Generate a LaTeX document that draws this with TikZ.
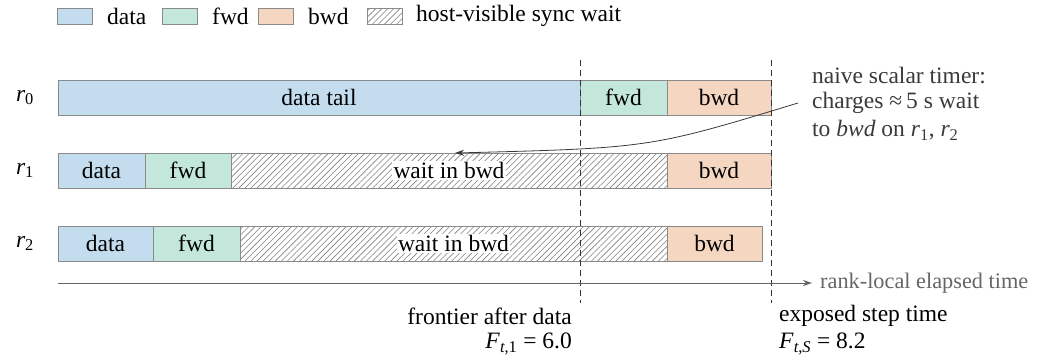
\documentclass[tikz,border=0pt]{standalone}
\usepackage{fontspec}
\setmainfont{Liberation Serif}
\usetikzlibrary{patterns.meta,arrows.meta}
\definecolor{cdata}{HTML}{C4DDEE}
\definecolor{cfwd}{HTML}{C3E7DB}
\definecolor{cbwd}{HTML}{F4D6C1}
\definecolor{cedge}{HTML}{8A8A8A}
\definecolor{chatch}{HTML}{808080}
\definecolor{cnote}{HTML}{3A3A3A}
\definecolor{caxis}{HTML}{666666}
\newcommand{\sub}[2]{#1\textsubscript{#2}}
\begin{document}
\begin{tikzpicture}[x=1pt,y=-1pt,
  font=\fontsize{23.5}{27}\selectfont,
  seg/.style={draw=cedge,line width=0.9pt,minimum height=35pt,inner sep=0pt,anchor=north west,outer sep=0pt},
  datab/.style={seg,fill=cdata},
  fwdb/.style={seg,fill=cfwd},
  bwdb/.style={seg,fill=cbwd},
  waitb/.style={seg,pattern={Lines[angle=45,distance=4.3pt,line width=0.6pt]},pattern color=chatch},
  swatch/.style={draw=cedge,line width=0.9pt,minimum width=35pt,minimum height=16pt,inner sep=0pt,anchor=west,outer sep=0pt},
  lbl/.style={inner sep=0pt},
  waitlbl/.style={fill=white,inner sep=1.5pt},
  frontier/.style={dashed,dash pattern=on 6pt off 4pt,line width=0.9pt,draw=black!80}
]
\useasboundingbox (0,0) rectangle (1045,360);

% legend
\node[swatch,fill=cdata] (lg1) at (57,16) {};
\node[lbl,anchor=west] (lt1) at (107,16) {data};
\node[swatch,fill=cfwd] (lg2) at (162,16) {};
\node[lbl,anchor=west] (lt2) at (212,16) {fwd};
\node[swatch,fill=cbwd] (lg3) at (258,16) {};
\node[lbl,anchor=west] (lt3) at (308,16) {bwd};
\node[swatch,pattern={Lines[angle=45,distance=4.3pt,line width=0.6pt]},pattern color=chatch] (lg4) at (367,16) {};
\node[lbl,anchor=west] (lt4) at (416,16) {host-visible sync wait};

% row labels
\node[lbl] (r0) at (25,97.5) {\sub{\textit{r}}{0}};
\node[lbl] (r1) at (25,170.5) {\sub{\textit{r}}{1}};
\node[lbl] (r2) at (25,243.5) {\sub{\textit{r}}{2}};

% row 0
\node[datab,minimum width=522pt] (a0) at (58,80) {};
\node[fwdb,minimum width=87pt] (b0) at (580,80) {};
\node[bwdb,minimum width=104pt] (c0) at (667,80) {};
\node[lbl] at (a0.center) {data tail};
\node[lbl] at (b0.center) {fwd};
\node[lbl] at (c0.center) {bwd};

% row 1
\node[datab,minimum width=87pt] (a1) at (58,153) {};
\node[fwdb,minimum width=86pt] (b1) at (145,153) {};
\node[waitb,minimum width=436pt] (w1) at (231,153) {};
\node[bwdb,minimum width=104pt] (c1) at (667,153) {};
\node[lbl] at (a1.center) {data};
\node[lbl] at (b1.center) {fwd};
\node[waitlbl] (wl1) at (w1.center) {wait in bwd};
\node[lbl] at (c1.center) {bwd};

% row 2
\node[datab,minimum width=95pt] (a2) at (58,226) {};
\node[fwdb,minimum width=87pt] (b2) at (153,226) {};
\node[waitb,minimum width=427pt] (w2) at (240,226) {};
\node[bwdb,minimum width=95pt] (c2) at (667,226) {};
\node[lbl] at (a2.center) {data};
\node[lbl] at (b2.center) {fwd};
\node[waitlbl] (wl2) at (w2.center) {wait in bwd};
\node[lbl] at (c2.center) {bwd};

% frontier lines
\coordinate (f1t) at (580,60);
\coordinate (f1b) at (580,303);
\coordinate (f2t) at (771,60);
\coordinate (f2b) at (771,303);
\draw[frontier] (f1t) -- (f1b);
\draw[frontier] (f2t) -- (f2b);

% time axis
\coordinate (ax0) at (58,283);
\coordinate (ax1) at (812,283);
\draw[caxis,line width=0.9pt,-{Stealth[length=9pt,width=6pt]}] (ax0) -- (ax1);
\node[lbl,anchor=west,text=caxis,font=\fontsize{22.3}{26}\selectfont] (axl) at (820,283) {rank-local elapsed time};

% bottom labels
\node[lbl,anchor=east] (fr1) at (572,316) {frontier after data};
\node[lbl,anchor=east] (fr2) at (572,344) {\sub{\textit{F}}{\textit{t},1} = 6.0};
\node[lbl,anchor=west] (ex1) at (779,316) {exposed step time};
\node[lbl,anchor=west] (ex2) at (779,344) {\sub{\textit{F}}{\textit{t},\textit{S}} = 8.2};

% annotation
\node[lbl,anchor=west,text=cnote,align=left] (n1) at (812,76) {naive scalar timer:};
\node[lbl,anchor=west,text=cnote] (n2) at (812,103) {charges ≈\,5 s wait};
\node[lbl,anchor=west,text=cnote] (n3) at (812,130) {to \textit{bwd} on \sub{\textit{r}}{1}, \sub{\textit{r}}{2}};
\coordinate (tip) at (455,153);
\draw[cnote,line width=0.8pt,-{Stealth[length=9pt,width=6pt]}] ([xshift=-14pt]n2.west) .. controls (650,148) .. (tip);
\end{tikzpicture}
\end{document}
